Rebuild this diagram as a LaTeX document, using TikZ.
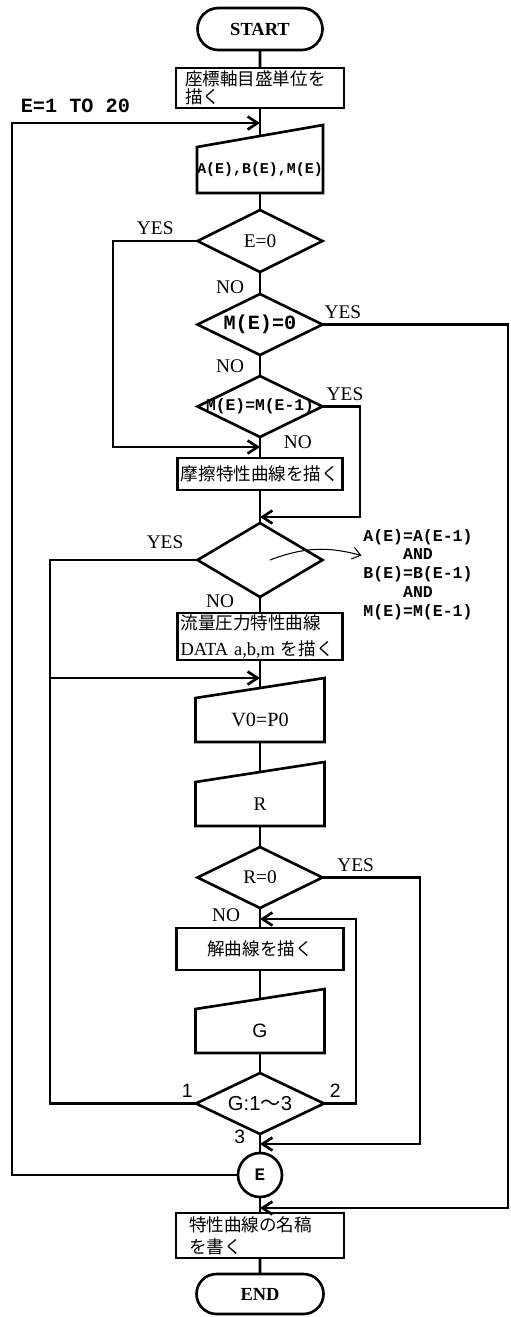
\documentclass[tikz,border=0pt]{standalone}
\usepackage{fontspec}
\setmainfont{Liberation Serif}
\setsansfont{Liberation Sans}
\setmonofont{Liberation Mono}
\newfontfamily\jp{Noto Sans CJK JP}
\usepackage{tikz}
\usetikzlibrary{positioning,arrows.meta,calc,shapes.geometric,shapes.misc}
\newcommand{\ctext}[1]{\hbox to 0pt{\hss#1\hss}}
\tikzset{
  flowline/.style={line width=1.5pt},
  >={Straight Barb[length=2mm,width=2.6mm]},
}

\begin{document}
\begin{tikzpicture}[
  flowline,
  every node/.style={outer sep=0pt},
  term/.style={rounded rectangle, draw, minimum width=2.5cm, minimum height=0.84cm, inner sep=0pt, font=\bfseries\fontsize{10.5}{12}\selectfont},
  proc/.style={rectangle, draw, minimum width=3.36cm, inner sep=0pt, font=\jp\fontsize{10}{10.5}\selectfont},
  inp/.style={rectangle, minimum width=2.58cm, minimum height=0.88cm, inner sep=0pt},
  decision/.style={diamond, draw, aspect=2, minimum width=2.5cm, minimum height=1.22cm, inner sep=0pt},
  lbl/.style={font=\fontsize{11}{13}\selectfont},
  num/.style={font=\sffamily\fontsize{11}{13}\selectfont},
  mono/.style={font=\ttfamily\bfseries\fontsize{#1}{#1}\selectfont}
]
\useasboundingbox (0,0) rectangle (10.22,-26.34);

% Main column
\node[term] (start) at (5.2,-0.58) {START};
\node[proc, minimum height=0.8cm, text width=3.0cm, inner xsep=0.18cm, align=left, below=0.36cm of start] (b1) {座標軸目盛単位を\\描く};
\node[inp, minimum width=2.52cm, minimum height=0.92cm, mono=8.5, below=0.78cm of b1] (in1) {A(E),B(E),M(E)};
\node[decision, minimum height=1.24cm, lbl, below=0.34cm of in1] (d1) {E=0};
\node[decision, mono=11.5, below=0.44cm of d1] (d2) {M(E)=0};
\node[decision, mono=9.3, below=0.42cm of d2] (d3) {\ctext{M(E)=M(E-1)}};
\node[proc, minimum width=3.3cm, minimum height=0.64cm, below=0.42cm of d3] (b2) {摩擦特性曲線を描く};
\node[decision, minimum height=1.48cm, below=0.66cm of b2] (d4) {};
\node[proc, minimum width=3.3cm, minimum height=0.94cm, text width=3.18cm, inner xsep=0.06cm, align=left, font=\jp\fontsize{10}{15}\selectfont, below=0.32cm of d4] (b3) {流量圧力特性曲線\\{\rmfamily\fontsize{10.5}{15}\selectfont DATA a,b,m }を描く};
\node[inp, font=\fontsize{11.5}{13}\selectfont, below=0.76cm of b3] (in2) {V0=P0};
\node[inp, lbl, below=0.8cm of in2] (in3) {R};
\node[decision, lbl, below=0.42cm of in3] (d5) {R=0};
\node[proc, minimum width=3.34cm, minimum height=0.84cm, below=0.4cm of d5] (b4) {解曲線を描く};
\node[inp, num, below=0.78cm of b4] (in4) {G};
\node[decision, minimum width=2.56cm, font=\sffamily\fontsize{11.5}{13}\selectfont, below=0.4cm of in4] (d6) {G:1{\jp 〜}3};
\node[circle, draw, minimum size=0.88cm, inner sep=0pt, mono=10, below=0.38cm of d6] (E) {E};
\node[proc, minimum height=0.9cm, text width=2.84cm, inner xsep=0.26cm, align=left, font=\jp\fontsize{10}{12.5}\selectfont, below=0.32cm of E] (b5) {特性曲線の名稿\\を書く};
\node[term, minimum width=2.54cm, minimum height=0.8cm, below=0.32cm of b5] (stop) {END};

% Input shapes
\foreach \n/\s in {in1/0.44, in2/0.4, in3/0.4, in4/0.4} {
  \draw (\n.south west) -- (\n.south east) -- ([yshift=\s cm]\n.north east) -- (\n.north west) -- cycle;
  \coordinate (\n-top) at ([yshift={\s*0.5cm}]\n.north);
}

% Joints and side rails
\coordinate (j1) at ([yshift=-0.3cm]b1.south);
\coordinate (j2) at ([yshift=-0.2cm]d3.south);
\coordinate (j3) at ([yshift=-0.54cm]b2.south);
\coordinate (j4) at ([yshift=-0.36cm]b3.south);
\coordinate (j5) at ([yshift=-0.22cm]d5.south);
\coordinate (j6) at ([yshift=-0.2cm]d6.south);
\coordinate (j7) at ([yshift=-0.22cm]E.south);
\coordinate (xa) at (0.24,0);
\coordinate (xb) at (2.26,0);
\coordinate (xc) at (1.0,0);
\coordinate (xd) at (7.2,0);
\coordinate (xe) at (7.12,0);
\coordinate (xf) at (8.4,0);
\coordinate (xg) at (10.16,0);

% Column
\path
(start) edge (b1)
(b1) edge (in1-top)
(in1) edge (d1)
(d1) edge node[lbl, left, pos=0.68, xshift=-0.2cm] {NO} (d2)
(d2) edge node[lbl, left, pos=0.52, xshift=-0.2cm] {NO} (d3)
(d3) edge node[lbl, right, pos=0.24, xshift=0.36cm] {NO} (b2)
(b2) edge (d4)
(d4) edge node[lbl, left, pos=0.25, xshift=-0.4cm] {NO} (b3)
(b3) edge (in2-top)
(in2) edge (in3-top)
(in3) edge (d5)
(d5) edge node[lbl, left, pos=0.35, xshift=-0.28cm] {NO} (b4)
(b4) edge (in4-top)
(in4) edge (d6)
(d6) edge node[num, left, pos=0.15, xshift=-0.18cm] {3} (E)
(E) edge (b5)
(b5) edge (stop);

% Branches
\draw[->] (E.west) -| (xa |- j1) -- (j1);
\node[mono=11.5, anchor=base west] (loop) at ([xshift=0.06cm, yshift=0.22cm]xa |- j1) {E=1 TO 20};
\draw[->] (d1.west) -- node[lbl, above] {YES} (d1.west -| xb) |- (j2);
\draw[->] (d2.east) -- node[lbl, above, pos=0.11] {YES} (d2.east -| xg) |- (j7);
\draw[->] (d3.east) -- node[lbl, above, pos=0.6] {YES} (d3.east -| xd) |- (j3);
\draw[->] (d4.west) -- node[lbl, above, pos=0.22, yshift=0.1cm] {YES} (d4.west -| xc) |- (j4);
\draw (d6.west) -- node[num, above, pos=0.06] {1} (d6.west -| xc) -- (xc |- j4);
\draw[->] (d5.east) -- node[lbl, above, pos=0.34] {YES} (d5.east -| xf) |- (j6);
\draw[->] (d6.east) -- node[num, above, pos=0.35] {2} (d6.east -| xe) |- (j5);

% Condition note
\node[align=center, inner sep=0pt, font=\ttfamily\bfseries\fontsize{9.4}{10.7}\selectfont] (cond) at (8.36,-11.49) {A(E)=A(E-1)\\AND\\B(E)=B(E-1)\\AND\\M(E)=M(E-1)};
\coordinate (c1) at ([xshift=0.2cm]d4.center);
\draw[line width=0.6pt, -{Straight Barb[length=1.6mm,width=2.4mm]}] (c1) to[bend left=18] ([xshift=-0.04cm, yshift=0.38cm]cond.west);

\end{tikzpicture}
\end{document}
